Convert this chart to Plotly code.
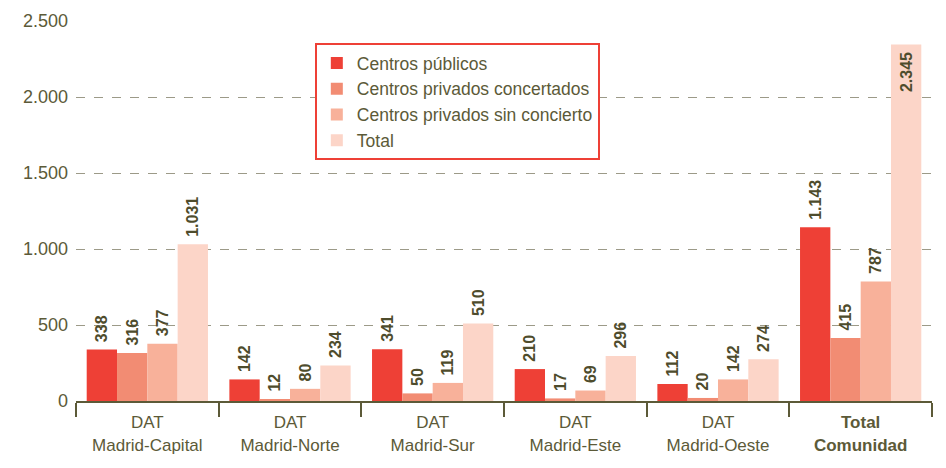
import plotly.graph_objects as go

categories = ["DAT<br>Madrid-Capital", "DAT<br>Madrid-Norte", "DAT<br>Madrid-Sur",
              "DAT<br>Madrid-Este", "DAT<br>Madrid-Oeste", "<b>Total<br>Comunidad</b>"]
publicos = [338, 142, 341, 210, 112, 1143]
concertados = [316, 12, 50, 17, 20, 415]
sin_concierto = [377, 80, 119, 69, 142, 787]
total = [1031, 234, 510, 296, 274, 2345]

series_names = ["Centros públicos", "Centros privados concertados",
                "Centros privados sin concierto", "Total"]
colors = ["#EE4036", "#F28C73", "#F8B19A", "#FCD5C8"]
y_ticks = [0, 500, 1000, 1500, 2000, 2500]

TXT = "#5C5A38"
LBL = "#4E4C2C"
FONT = "Liberation Sans, Arial, sans-serif"
NB = "\u00a0"

def fmt(v):
    return f"{v:,}".replace(",", ".")

fig = go.Figure()
for name, vals, col in zip(series_names, [publicos, concertados, sin_concierto, total], colors):
    pos = ["inside" if v > 2200 else "outside" for v in vals]
    texts = [(fmt(v) + NB) if v > 2200 else (NB + fmt(v)) for v in vals]
    lf = dict(family=FONT, size=16, color=LBL, weight="bold")
    fig.add_trace(go.Bar(
        x=categories, y=vals, name=name, marker=dict(color=col, line=dict(width=0)),
        text=texts, textposition=pos, textangle=-90,
        insidetextanchor="end", constraintext="none",
        textfont=lf, insidetextfont=lf, outsidetextfont=lf,
        cliponaxis=False, hoverinfo="skip",
    ))

fig.update_layout(
    width=946, height=468,
    margin=dict(l=76, r=14, t=21, b=67),
    paper_bgcolor="white", plot_bgcolor="white",
    barmode="group", bargap=0.15, bargroupgap=0,
    separators=",.",
    font=dict(family=FONT, size=17, color=TXT),
    legend=dict(
        x=0.279, y=0.942, xanchor="left", yanchor="top",
        bordercolor="#EE4036", borderwidth=2, bgcolor="white",
        font=dict(size=17.5, color=TXT), itemwidth=30,
    ),
    xaxis=dict(
        showline=True, linecolor=TXT, linewidth=2, automargin=False,
        ticks="outside", tickson="boundaries", ticklen=14, tickcolor=TXT, tickwidth=1.5,
        tickfont=dict(size=17, color=TXT), showgrid=False, ticklabelstandoff=5,
    ),
    yaxis=dict(
        range=[0, 2500], tickvals=y_ticks, tickformat=",d", automargin=False,
        showgrid=True, gridcolor="#9C9A88", griddash="dash", gridwidth=1,
        zeroline=False, showline=False,
        tickfont=dict(size=18, color=TXT), ticks="", ticklabelstandoff=7,
    ),
)

fig.write_html("out.html", config={"displayModeBar": False},
               post_script="document.body.style.margin='0';")
